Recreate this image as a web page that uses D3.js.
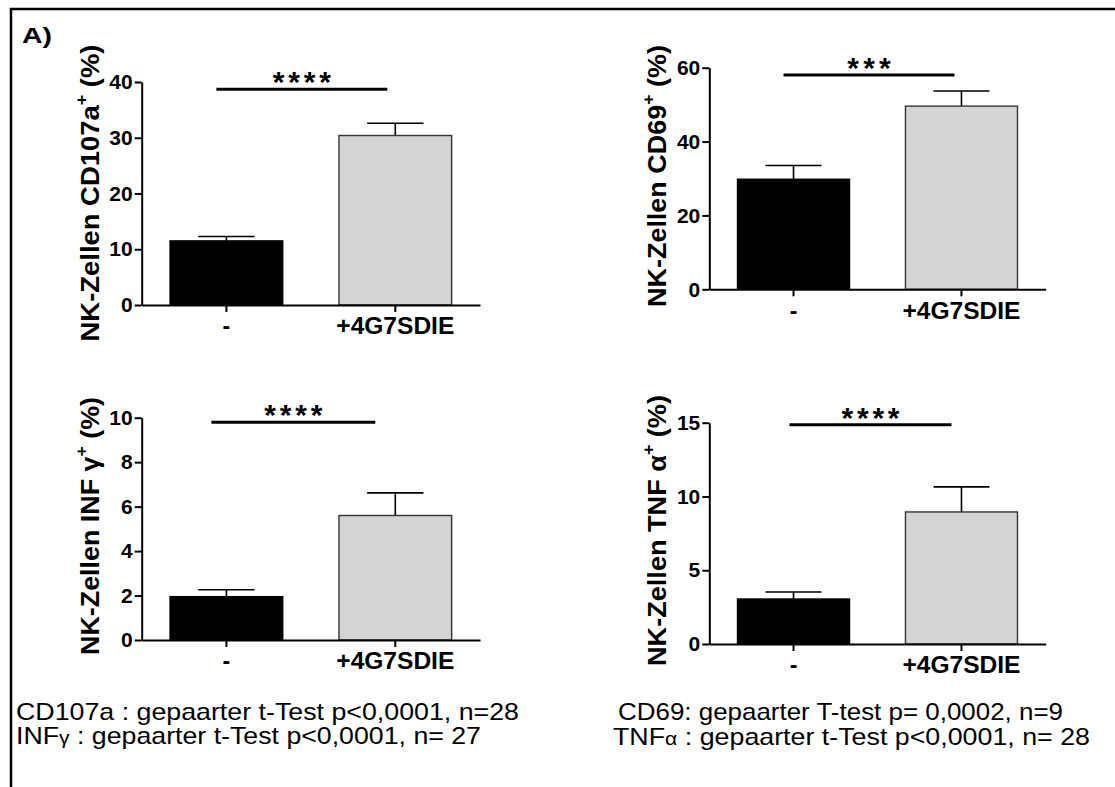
<!DOCTYPE html>
<html>
<head>
<meta charset="utf-8">
<title>NK-Zellen</title>
<style>
body { margin: 0; background: #fff; }
svg { font-family: Arial, "Liberation Sans", sans-serif; }
.axis path, .axis line { stroke: #000; stroke-width: 2px; }
.axis text { font-weight: bold; fill: #000; }
</style>
</head>
<body>
<script src="https://d3js.org/d3.v7.min.js"></script>
<script>

// groups on every x axis
var groups = ["-", "+4G7SDIE"];

// bar heights (mean, %) and SEM
var cd107aMean = [11.5, 30.4], cd107aSem = [0.8, 2.2];
var cd69Mean   = [29.8, 49.6], cd69Sem   = [3.7, 4.1];
var infgMean   = [1.95, 5.6],  infgSem   = [0.31, 1.02];
var tnfaMean   = [3.05, 8.95], tnfaSem   = [0.47, 1.7];

// y axes
var yMax   = [40, 60, 10, 15];
var yTicks = [[0, 10, 20, 30, 40], [0, 20, 40, 60], [0, 2, 4, 6, 8, 10], [0, 5, 10, 15]];

// significance bars
var sigStars = ["****", "***", "****", "****"];
var sigLevel = [38.7, 58.0, 9.8, 14.86];

// y labels: main text and superscript
var yLabels = [
  {main: "NK-Zellen CD107a", sup: "+"},
  {main: "NK-Zellen CD69", sup: "+"},
  {main: "NK-Zellen INF \u03b3", sup: "+"},
  {main: "NK-Zellen TNF \u03b1", sup: "+"}
];

// footer lines (greek letter kept apart, it is set smaller)
var footLeft  = [["CD107a : gepaarter t-Test p<0,0001, n=28"], ["INF", "\u03b3", " : gepaarter t-Test p<0,0001, n= 27"]];
var footRight = [["CD69: gepaarter T-test p= 0,0002, n=9"], ["TNF", "\u03b1", " : gepaarter t-Test p<0,0001, n= 28"]];

var panels = [
  {mean: cd107aMean, sem: cd107aSem, x0: 141.7, x1: 480,    top: 82,    bot: 305,   sig: [-10, -8],  labLen: 297, labMid: 193},
  {mean: cd69Mean,   sem: cd69Sem,   x0: 709.3, x1: 1045.7, top: 67.7,  bot: 289.3, sig: [-10, -7],  labLen: 262, labMid: 176},
  {mean: infgMean,   sem: infgSem,   x0: 141.7, x1: 480,    top: 417.7, bot: 640,   sig: [-15, -20], labLen: 258, labMid: 526},
  {mean: tnfaMean,   sem: tnfaSem,   x0: 709.3, x1: 1045.7, top: 422.7, bot: 644,   sig: [-4, -10],  labLen: 271, labMid: 530.5}
];

var W = 1115, H = 787;
var svg = d3.select("body").append("svg")
    .attr("width", W)
    .attr("height", H);

// frame
svg.append("rect")
    .attr("x", 11).attr("y", 9)
    .attr("width", 1300).attr("height", 1000)
    .attr("fill", "none").attr("stroke", "#000").attr("stroke-width", 2.5);

svg.append("text")
    .attr("x", 22).attr("y", 43)
    .attr("textLength", 30).attr("lengthAdjust", "spacingAndGlyphs")
    .style("font-size", "22px").style("font-weight", "bold")
    .text("A)");

panels.forEach(function(p, i) {
  var x = d3.scaleBand()
      .domain(groups)
      .range([p.x0, p.x1])
      .paddingInner(0.333)
      .paddingOuter(0.168);
  var y = d3.scaleLinear()
      .domain([0, yMax[i]])
      .range([p.bot, p.top]);

  var g = svg.append("g");

  var data = groups.map(function(k, j) { return {k: k, m: p.mean[j], s: p.sem[j], j: j}; });

  // error bars (upper only)
  g.selectAll(".err").data(data).enter().append("path")
      .attr("d", function(d) {
        var cx = x(d.k) + x.bandwidth() / 2, w = x.bandwidth() / 4;
        return "M" + cx + "," + y(d.m) + "V" + y(d.m + d.s) + "M" + (cx - w) + "," + y(d.m + d.s) + "H" + (cx + w);
      })
      .attr("fill", "none").attr("stroke", "#000").attr("stroke-width", 1.6);

  // bars
  g.selectAll(".bar").data(data).enter().append("rect")
      .attr("x", function(d) { return x(d.k); })
      .attr("y", function(d) { return y(d.m); })
      .attr("width", x.bandwidth())
      .attr("height", function(d) { return y(0) - y(d.m); })
      .attr("fill", function(d) { return d.j === 0 ? "#000" : "#d4d4d4"; })
      .attr("stroke", function(d) { return d.j === 0 ? "#000" : "#333"; })
      .attr("stroke-width", 1.4);

  // axes
  g.append("g")
      .attr("class", "axis")
      .attr("transform", "translate(" + p.x0 + ",0)")
      .call(d3.axisLeft(y).tickValues(yTicks[i]).tickSize(7).tickSizeOuter(0).tickPadding(2))
      .selectAll("text").style("font-size", "21px");

  g.append("g")
      .attr("class", "axis")
      .attr("transform", "translate(0," + p.bot + ")")
      .call(d3.axisBottom(x).tickSize(7).tickSizeOuter(0).tickPadding(6))
      .selectAll("text")
      .style("font-size", "23px")
      .attr("textLength", function(d) { return d.length > 1 ? 118 : null; })
      .attr("lengthAdjust", "spacingAndGlyphs");

  // significance
  var c0 = x(groups[0]) + x.bandwidth() / 2, c1 = x(groups[1]) + x.bandwidth() / 2;
  var sy = y(sigLevel[i]);
  g.append("line")
      .attr("x1", c0 + p.sig[0]).attr("x2", c1 + p.sig[1])
      .attr("y1", sy).attr("y2", sy)
      .attr("stroke", "#000").attr("stroke-width", 3);
  g.append("text")
      .attr("x", (c0 + p.sig[0] + c1 + p.sig[1]) / 2)
      .attr("y", sy + 3)
      .attr("text-anchor", "middle")
      .attr("textLength", sigStars[i].length * 14.5)
      .attr("lengthAdjust", "spacing")
      .style("font-size", "30px").style("font-weight", "bold")
      .text(sigStars[i]);

  // y label
  var lab = g.append("text")
      .attr("transform", "translate(" + (p.x0 - 43) + "," + p.labMid + ") rotate(-90)")
      .attr("text-anchor", "middle")
      .attr("textLength", p.labLen).attr("lengthAdjust", "spacingAndGlyphs")
      .style("font-size", "26px").style("font-weight", "bold");
  lab.append("tspan").text(yLabels[i].main);
  lab.append("tspan").attr("dy", -12).style("font-size", "17px").text(yLabels[i].sup);
  lab.append("tspan").attr("dy", 12).text(" (%)");
});

// footer
function footer(lines, xs, ys, lens) {
  lines.forEach(function(parts, k) {
    var t = svg.append("text")
        .attr("x", xs[k]).attr("y", ys[k])
        .attr("textLength", lens[k]).attr("lengthAdjust", "spacingAndGlyphs")
        .style("font-size", "24px");
    parts.forEach(function(s, n) {
      var sp = t.append("tspan").text(s);
      if (parts.length === 3 && n === 1) sp.style("font-size", "19px");
    });
  });
}
footer(footLeft, [16, 16], [720, 744], [503, 465]);
footer(footRight, [618, 613], [720, 745], [445, 477]);

</script>
</body>
</html>
